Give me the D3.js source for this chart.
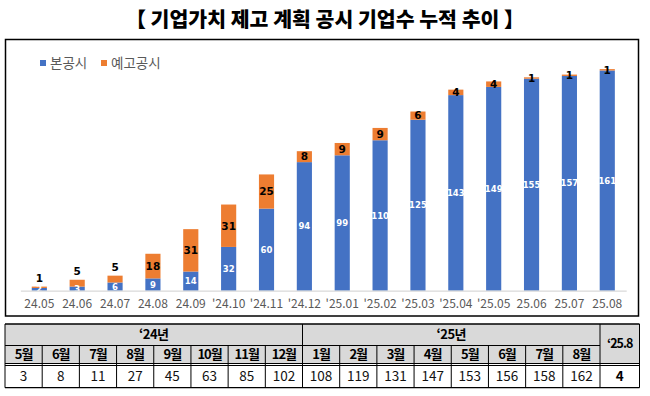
<!DOCTYPE html>
<html><head><meta charset="utf-8">
<script src="https://cdn.jsdelivr.net/npm/d3@7"></script>
<style>
html,body{margin:0;padding:0;background:#fff;}
svg{display:block;}
</style></head>
<body>
<svg id="c" width="650" height="396"></svg>
<script>
const categories = ["24.05","24.06","24.07","24.08","24.09","'24.10","'24.11","'24.12","'25.01","'25.02","'25.03","'25.04","'25.05","25.06","25.07","25.08"];
const mainDisclosure = [2,3,6,9,14,32,60,94,99,110,125,143,149,155,157,161];
const preDisclosure  = [1,5,5,18,31,31,25,8,9,9,6,4,4,1,1,1];
const seriesNames = ["본공시","예고공시"];
const seriesColors = ["#4472C4","#ED7D31"];
const titleText = "【 기업가치 제고 계획 공시 기업수 누적 추이 】";
const tableYears = ["‘24년","‘25년"];
const tableYearSpans = [8,8];
const tableMonths = ["5월","6월","7월","8월","9월","10월","11월","12월","1월","2월","3월","4월","5월","6월","7월","8월"];
const tableTotals = [3,8,11,27,45,63,85,102,108,119,131,147,153,156,158,162];
const lastHeader = "‘25.8";
const lastValue = 4;

const svg = d3.select("#c");
const KR = "'Noto Sans CJK KR','Noto Sans',sans-serif";

// title
svg.append("text").attr("x",325).attr("y",27).attr("text-anchor","middle")
  .attr("font-family",KR).attr("font-weight",900).attr("font-size",20.5).attr("fill","#000")
  .text(titleText);

// chart frame
svg.append("rect").attr("x",5.5).attr("y",39.5).attr("width",633).attr("height",276.5)
  .attr("fill","none").attr("stroke","#000").attr("stroke-width",1.5);

const data = categories.map((c,i)=>({c, a:mainDisclosure[i], b:preDisclosure[i]}));
const x = d3.scaleBand().domain(categories).range([20.4,626.2]).paddingInner(0.6).paddingOuter(0.3);
const y = d3.scaleLinear().domain([0,180]).range([290.7,44.5]);

const stack = d3.stack().keys(["a","b"])(data);
const g = svg.append("g");
g.selectAll("g.s").data(stack).join("g").attr("fill",(d,i)=>seriesColors[i])
  .selectAll("rect").data(d=>d).join("rect")
  .attr("x",d=>x(d.data.c)).attr("width",x.bandwidth())
  .attr("y",d=>y(d[1])).attr("height",d=>y(d[0])-y(d[1]));

// axis
const ax = svg.append("g").attr("transform","translate(0,290.7)")
  .call(d3.axisBottom(x).tickSize(0).tickPadding(9));
ax.select(".domain").attr("stroke","#d9d9d9").attr("stroke-width",1.2);
ax.selectAll("text").attr("font-family",KR).attr("font-size",12).attr("fill","#595959");

// labels blue
g.selectAll("text.a").data(stack[0]).join("text")
  .attr("x",d=>x(d.data.c)+x.bandwidth()/2)
  .attr("y",d=>(y(d[0])+y(d[1]))/2).attr("dy","0.36em")
  .attr("text-anchor","middle").attr("font-family","'DejaVu Sans',sans-serif")
  .attr("font-weight","bold").attr("font-size",8.5).attr("fill","#fff")
  .text(d=>d.data.a);
// labels orange (lifted above the bar when the blue segment is too short to hold both)
g.selectAll("text.b").data(stack[1]).join("text")
  .attr("x",d=>x(d.data.c)+x.bandwidth()/2)
  .attr("y",d=>{
    const blueH = y(0) - y(d.data.a);
    return blueH < 10 ? y(d[1]) - 8.5 : (y(d[0])+y(d[1]))/2;
  }).attr("dy","0.36em")
  .attr("text-anchor","middle").attr("font-family","'DejaVu Sans',sans-serif")
  .attr("font-weight","bold").attr("font-size",10.5).attr("fill","#000")
  .text(d=>d.data.b);

// legend
const lg = svg.append("g").selectAll("g").data(seriesNames).join("g")
  .attr("transform",(d,i)=>`translate(${i?101:40},60)`);
lg.append("rect").attr("width",6).attr("height",6).attr("fill",(d,i)=>seriesColors[i]);
lg.append("text").attr("x",10).attr("y",3).attr("dy","0.36em")
  .attr("font-family",KR).attr("font-size",13.5).attr("fill","#595959").text(d=>d);

// table
const tL = 5, tR = 639.5, lastL = 600;
const colW = (lastL - tL)/tableMonths.length;
const rowY = [324, 345.5, 363.5, 365.5, 387.7];
const tg = svg.append("g");
tg.append("rect").attr("x",tL).attr("y",rowY[0]).attr("width",tR-tL).attr("height",rowY[2]-rowY[0]).attr("fill","#d9d9d9");
const line = (x1,y1,x2,y2,w)=>tg.append("line").attr("x1",x1).attr("y1",y1).attr("x2",x2).attr("y2",y2)
  .attr("stroke","#000").attr("stroke-width",w||1);
line(tL,rowY[0],tR,rowY[0],1.3);
line(tL,rowY[1],lastL,rowY[1]);
line(tL,rowY[2],tR,rowY[2]);
line(tL,rowY[3],tR,rowY[3]);
line(tL,rowY[4],tR,rowY[4],1.3);
line(tL,rowY[0],tL,rowY[4]);
line(tR,rowY[0],tR,rowY[4]);
line(lastL,rowY[0],lastL,rowY[4]);
tableMonths.forEach((m,i)=>{ if(i>0){
  const xx = tL + i*colW;
  const isYear = tableYearSpans[0]===i;
  line(xx, isYear?rowY[0]:rowY[1], xx, rowY[4]);
}});
let acc = 0;
tableYears.forEach((yl,i)=>{
  const cx = tL + (acc + tableYearSpans[i]/2)*colW; acc += tableYearSpans[i];
  tg.append("text").attr("x",cx).attr("y",(rowY[0]+rowY[1])/2).attr("dy","0.36em").attr("text-anchor","middle")
    .attr("font-family",KR).attr("font-weight","bold").attr("font-size",13).attr("letter-spacing",-0.5).text(yl);
});
tg.selectAll("text.m").data(tableMonths).join("text")
  .attr("x",(d,i)=>tL+(i+0.5)*colW).attr("y",(rowY[1]+rowY[2])/2).attr("dy","0.36em").attr("text-anchor","middle")
  .attr("font-family",KR).attr("font-weight","bold").attr("font-size",13).attr("letter-spacing",-1).text(d=>d);
tg.selectAll("text.v").data(tableTotals).join("text")
  .attr("x",(d,i)=>tL+(i+0.5)*colW).attr("y",(rowY[3]+rowY[4])/2).attr("dy","0.36em").attr("text-anchor","middle")
  .attr("font-family",KR).attr("font-size",13.5).attr("fill","#111").text(d=>d);
tg.append("text").attr("x",(lastL+tR)/2).attr("y",(rowY[0]+rowY[2])/2).attr("dy","0.36em").attr("text-anchor","middle")
  .attr("font-family",KR).attr("font-weight","bold").attr("font-size",12.5).attr("letter-spacing",-1).text(lastHeader);
tg.append("text").attr("x",(lastL+tR)/2).attr("y",(rowY[3]+rowY[4])/2).attr("dy","0.36em").attr("text-anchor","middle")
  .attr("font-family",KR).attr("font-weight","bold").attr("font-size",13.5).text(lastValue);
</script>
</body></html>
